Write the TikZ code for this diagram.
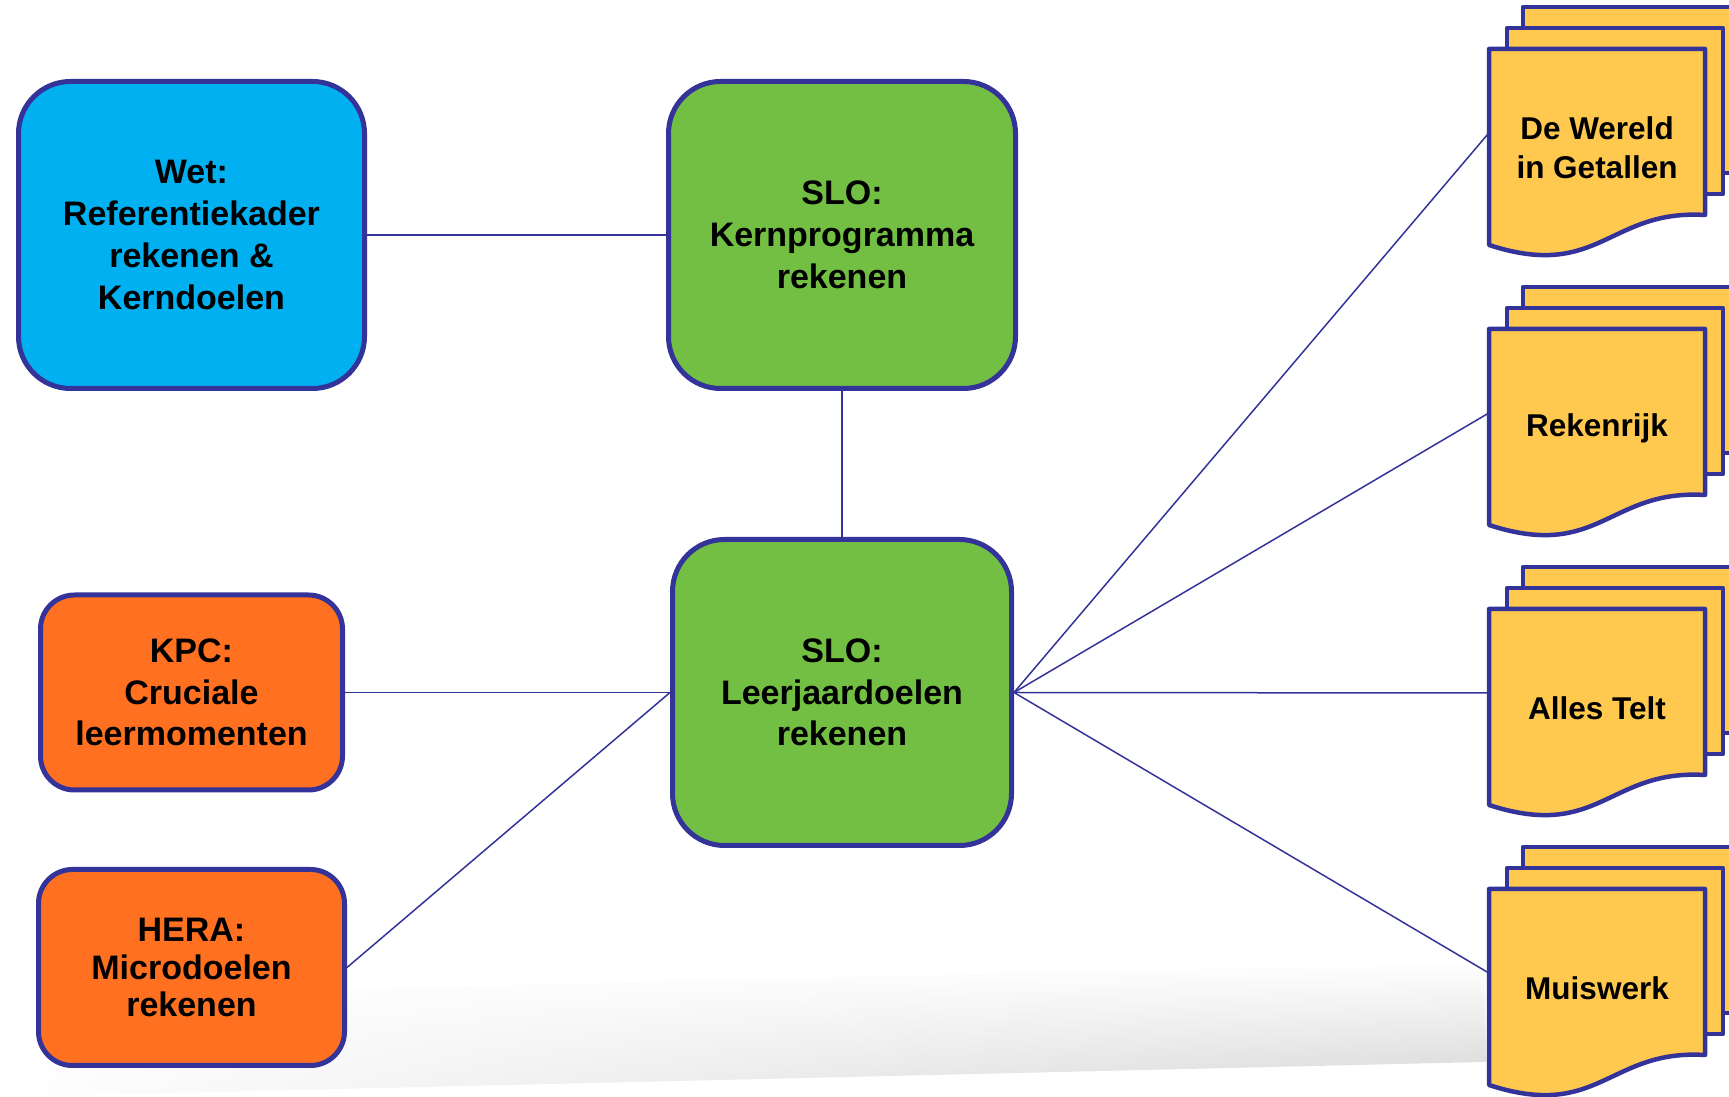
\documentclass[tikz,border=0pt]{standalone}
\usepackage{fontspec}
\setmainfont{Liberation Sans}
\usetikzlibrary{calc,fadings}
\definecolor{rand}{HTML}{333399}
\definecolor{blauw}{HTML}{00B0F0}
\definecolor{groen}{HTML}{72BF44}
\definecolor{oranje}{HTML}{FF7021}
\definecolor{geel}{HTML}{FFC94F}
\tikzset{
doos/.style={rectangle,rounded corners=52pt,draw=rand,line width=5pt,align=center,
  font=\bfseries\fontsize{34}{41.7}\selectfont},
wet/.style={doos,fill=blauw,minimum width=346pt,minimum height=307pt},
slo/.style={doos,fill=groen},
bron/.style={doos,fill=oranje,rounded corners=34pt},
blad/.style={draw=rand,fill=geel,line width=4.5pt,line join=round},
methode/.style={rectangle,minimum width=216pt,minimum height=198pt,inner sep=0pt,align=center,
  font=\bfseries\fontsize{31.5}{38.6}\selectfont},
lijn/.style={draw=rand,line width=1.5pt},
}
% stapel documenten: naam, x, y (linksboven), tekst
\newcommand{\stapel}[4]{
\draw[blad] (#2+34,#3+42) rectangle ++(216,-166);
\draw[blad] (#2+18,#3+21) rectangle ++(216,-166);
\draw[blad] (#2,#3) -- ++(216,0) -- ++(0,-166)
  .. controls +(-96,6) and +(110,-36) .. (#2,#3-196) -- cycle;
\node[methode] (#1) at (#2+108,#3-99) {#4};
}

\begin{document}
\begin{tikzpicture}[x=1pt,y=1pt]
\useasboundingbox (0,0) rectangle (1729,1097);
% schaduw onderaan
\begin{scope}[rotate=1.35]
\shade[top color=white,bottom color=black!17,path fading=west] (0,0) rectangle (1489,100);
\end{scope}

\node[wet] (wet) at (191.5,862) {Wet:\\Referentiekader\\rekenen \&\\Kerndoelen};
\node[slo,minimum width=347pt,minimum height=307pt] (kern) at (842,862) {SLO:\\Kernprogramma\\rekenen};
\node[slo,minimum width=339pt,minimum height=306pt] (leer) at (842,404.5) {SLO:\\Leerjaardoelen\\rekenen};
\node[bron,minimum width=302pt,minimum height=195pt] (kpc) at (191.5,404.5) {KPC:\\Cruciale\\leermomenten};
\node[bron,minimum width=306pt,minimum height=196pt,font=\bfseries\fontsize{34}{37.5}\selectfont] (hera) at (191.5,129.5) {HERA:\\Microdoelen\\rekenen};

\stapel{wereld}{1489}{1048}{De Wereld\\in Getallen}
\stapel{rekenrijk}{1489}{768}{Rekenrijk}
\stapel{allestelt}{1489}{488}{Alles Telt}
\stapel{muiswerk}{1489}{208}{Muiswerk}

\draw[lijn] (wet.east) -- (kern.west);
\draw[lijn] (kern.south) -- (leer.north);
\draw[lijn] (kpc.east) -- (leer.west);
\draw[lijn] (hera.east) -- (leer.west);
\foreach \m in {wereld,rekenrijk,allestelt,muiswerk}
  \draw[lijn] (leer.east) -- ([yshift=15pt]\m.west);
\end{tikzpicture}
\end{document}
